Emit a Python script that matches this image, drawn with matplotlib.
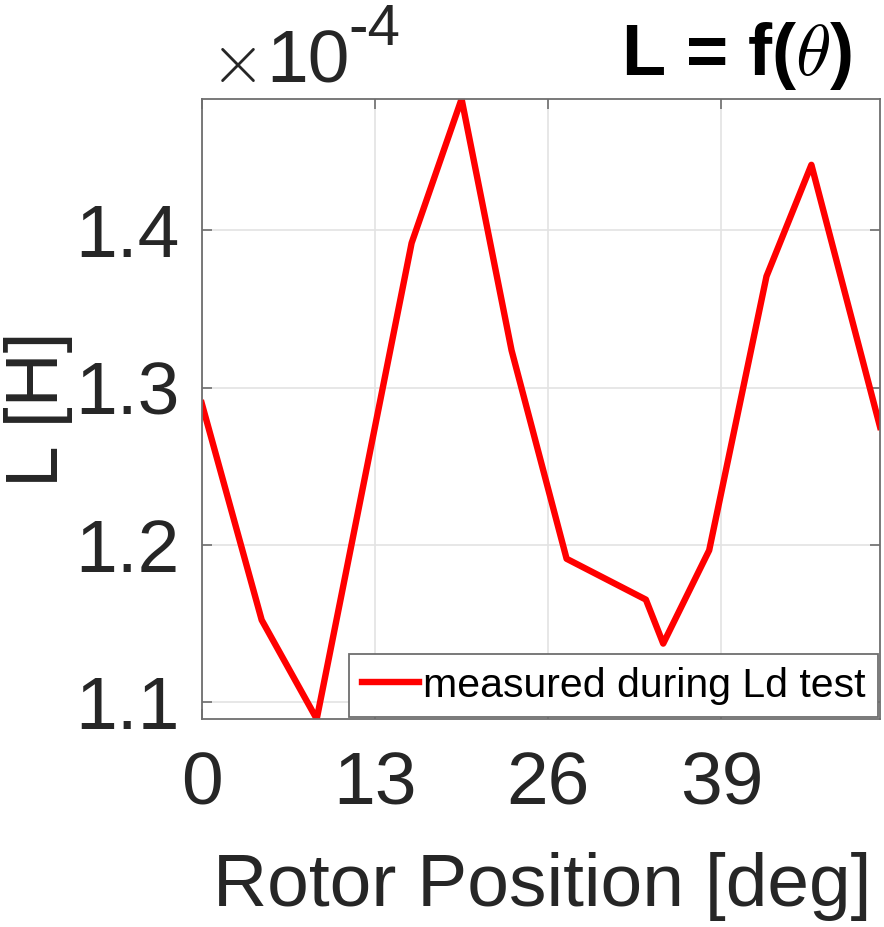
import matplotlib.pyplot as plt
from matplotlib.ticker import FuncFormatter

# Inductance vs rotor position
rotor_deg = [0, 4.5, 8.63, 15.75, 19.5, 23.25, 27.38, 33.33, 34.63, 38.08, 42.38, 45.75, 50.9]
L_henry = [1.290e-4, 1.152e-4, 1.089e-4, 1.392e-4, 1.4837e-4, 1.3237e-4, 1.191e-4,
           1.165e-4, 1.137e-4, 1.1964e-4, 1.3708e-4, 1.4418e-4, 1.275e-4]
x_ticks = [0, 13, 26, 39]
y_ticks = [1.1e-4, 1.2e-4, 1.3e-4, 1.4e-4]

plt.rcParams['font.family'] = ['Liberation Sans', 'DejaVu Sans']
plt.rcParams['mathtext.fontset'] = 'cm'

fig = plt.figure(figsize=(8.84, 9.27), dpi=100)
ax = fig.add_axes([0.2282, 0.2244, 0.7673, 0.6688])

ax.plot(rotor_deg, L_henry, color='#ff0000', linewidth=4.6, label='measured during Ld test')

ax.set_xlim(0, 50.9)
ax.set_ylim(1.089e-4, 1.4837e-4)
ax.set_xticks(x_ticks)
ax.set_yticks(y_ticks)
ax.yaxis.set_major_formatter(FuncFormatter(lambda v, _: f'{v / 1e-4:.1f}'))

# MATLAB-like look: box on, inward ticks on all sides, light grid
ax.grid(True, color='#e3e3e3', linewidth=1.2)
ax.set_axisbelow(True)
for s in ax.spines.values():
    s.set_color('#6e6e6e')
    s.set_linewidth(1.3)
ax.tick_params(direction='in', length=7, width=1.2, color='#6e6e6e',
               top=True, right=True, labelsize=54, labelcolor='#262626')
ax.tick_params(axis='x', pad=23)
ax.tick_params(axis='y', pad=16)

ax.set_xlabel('Rotor Position [deg]', fontsize=54, color='#262626')
ax.xaxis.set_label_coords(0.502, -0.2145)
ax.set_ylabel('L [H]', fontsize=54, color='#262626')
ax.yaxis.set_label_coords(-0.19, 0.5)

# exponent multiplier above the y axis
ax.text(0.012, 1.027, r'$\times$', transform=ax.transAxes,
        fontsize=50, color='#262626', ha='left', va='baseline')
ax.text(0.095, 1.027, '10', transform=ax.transAxes,
        fontsize=54, color='#262626', ha='left', va='baseline')
ax.text(0.216, 1.087, '-4', transform=ax.transAxes,
        fontsize=42, color='#262626', ha='left', va='baseline')

fig.text(0.964, 0.919, r'L = f($\theta$)', fontsize=52, fontweight='bold',
         ha='right', va='baseline', color='black')

leg = ax.legend(loc='lower right', fontsize=29.5, handlelength=1.4, handletextpad=0.1,
                borderpad=0.3, borderaxespad=0.05, fancybox=False, framealpha=1)
leg.get_frame().set_edgecolor('#6e6e6e')
leg.get_frame().set_linewidth(1.3)

fig.savefig('out.png', dpi=100)
